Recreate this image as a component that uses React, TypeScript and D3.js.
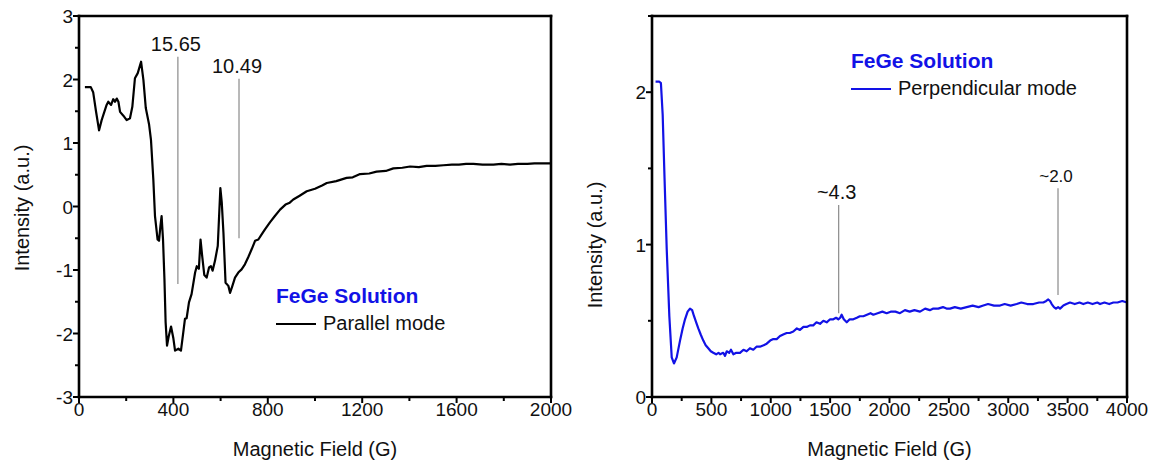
import { useEffect, useRef } from 'react'
import * as d3 from 'd3'

// EPR spectra of FeGe solution, parallel vs perpendicular mode
const PARALLEL_FIELD = [
  25, 50, 60, 72, 85, 96, 117, 124, 136, 145, 153, 160, 167, 174, 188, 202, 216, 226, 237, 249,
  263, 273, 283, 297, 305, 315, 322, 333, 339, 345, 350, 356, 362, 367, 373, 381, 390, 400, 407, 421,
  432, 442, 449, 456, 466, 477, 492, 499, 508, 515, 522, 531, 541, 551, 559, 566, 576, 588, 599, 605,
  612, 621, 633, 640, 650, 661, 675, 689, 703, 717, 732, 746, 760, 774, 788, 809, 830, 852, 875, 893,
  908, 935, 965, 1000, 1030, 1050, 1090, 1134, 1160, 1191, 1230, 1261, 1300, 1332, 1370, 1403, 1440, 1473, 1510, 1544,
  1580, 1610, 1640, 1671, 1710, 1756, 1790, 1826, 1860, 1900, 1930, 1960, 2000,
]
const PARALLEL_INTENSITY = [
  1.88, 1.88, 1.8, 1.5, 1.2, 1.36, 1.6, 1.65, 1.6, 1.69, 1.65, 1.7, 1.65, 1.49, 1.43, 1.36, 1.39, 1.57, 2.02, 2.1,
  2.28, 1.99, 1.55, 1.29, 1.05, 0.42, -0.15, -0.52, -0.54, -0.31, -0.15, -0.52, -1.14, -1.82, -2.19, -2.03, -1.89, -2.08, -2.27, -2.24,
  -2.27, -1.98, -1.77, -1.76, -1.51, -1.38, -1.04, -0.94, -0.98, -0.52, -0.78, -1.08, -1.12, -0.96, -0.94, -1.01, -0.86, -0.62, 0.29, 0.06,
  -0.41, -1.2, -1.25, -1.36, -1.25, -1.12, -1.04, -0.99, -0.91, -0.8, -0.67, -0.54, -0.52, -0.44, -0.36, -0.25, -0.15, -0.05, 0.03, 0.06,
  0.11, 0.17, 0.24, 0.28, 0.33, 0.37, 0.4, 0.45, 0.46, 0.51, 0.52, 0.55, 0.56, 0.6, 0.61, 0.63, 0.62, 0.64, 0.64, 0.65,
  0.66, 0.66, 0.67, 0.67, 0.66, 0.66, 0.67, 0.66, 0.67, 0.67, 0.68, 0.68, 0.68,
]

const PERP_FIELD = [
  30, 60, 75, 90, 105, 124, 146, 166, 185, 208, 236, 258, 278, 300, 320, 338, 354, 372, 390, 410,
  432, 452, 474, 495, 516, 540, 560, 573, 600, 615, 629, 650, 665, 685, 710, 741, 770, 797, 825, 853,
  880, 909, 940, 966, 995, 1022, 1050, 1078, 1105, 1134, 1160, 1190, 1220, 1246, 1275, 1303, 1330, 1358, 1385, 1415,
  1443, 1471, 1500, 1527, 1550, 1569, 1585, 1597, 1615, 1640, 1665, 1695, 1725, 1750, 1780, 1810, 1840, 1864, 1900, 1940,
  1976, 2010, 2050, 2088, 2130, 2170, 2210, 2257, 2300, 2340, 2369, 2410, 2450, 2480, 2510, 2550, 2600, 2650, 2700, 2750,
  2790, 2830, 2880, 2931, 2970, 3020, 3071, 3110, 3160, 3211, 3260, 3295, 3320, 3337, 3352, 3366, 3385, 3402, 3420, 3436,
  3450, 3464, 3490, 3520, 3560, 3600, 3632, 3670, 3710, 3750, 3773, 3810, 3850, 3885, 3920, 3960, 4000,
]
const PERP_INTENSITY = [
  2.07, 2.07, 2.06, 1.85, 1.45, 0.97, 0.53, 0.26, 0.22, 0.26, 0.37, 0.45, 0.51, 0.56, 0.58, 0.57, 0.53, 0.49, 0.45, 0.41,
  0.37, 0.34, 0.32, 0.3, 0.29, 0.28, 0.29, 0.28, 0.29, 0.27, 0.3, 0.29, 0.31, 0.28, 0.29, 0.29, 0.31, 0.3, 0.32, 0.31,
  0.33, 0.33, 0.34, 0.35, 0.37, 0.38, 0.38, 0.4, 0.41, 0.42, 0.42, 0.43, 0.45, 0.44, 0.46, 0.46, 0.47, 0.47, 0.49, 0.48,
  0.5, 0.49, 0.51, 0.51, 0.52, 0.51, 0.52, 0.54, 0.51, 0.49, 0.51, 0.51, 0.52, 0.53, 0.53, 0.54, 0.55, 0.54, 0.55, 0.56,
  0.55, 0.56, 0.56, 0.55, 0.57, 0.56, 0.57, 0.56, 0.58, 0.57, 0.58, 0.58, 0.59, 0.58, 0.58, 0.59, 0.58, 0.59, 0.6, 0.59,
  0.6, 0.61, 0.6, 0.6, 0.61, 0.6, 0.61, 0.62, 0.61, 0.61, 0.62, 0.62, 0.63, 0.64, 0.63, 0.61, 0.59, 0.58, 0.59, 0.58,
  0.59, 0.6, 0.61, 0.62, 0.61, 0.62, 0.61, 0.62, 0.61, 0.62, 0.61, 0.62, 0.61, 0.62, 0.62, 0.63, 0.62,
]

const PARALLEL_X_TICKS = [0, 400, 800, 1200, 1600, 2000]
const PARALLEL_Y_TICKS = [-3, -2, -1, 0, 1, 2, 3]
const PERP_X_TICKS = [0, 500, 1000, 1500, 2000, 2500, 3000, 3500, 4000]
const PERP_Y_TICKS = [0, 1, 2]

// g-value markers: label, field, line top, line bottom
const PARALLEL_MARKERS = [
  { label: '15.65', field: 419, top: 2.36, bottom: -1.22 },
  { label: '10.49', field: 678, top: 2.01, bottom: -0.5 },
]
const PERP_MARKERS = [
  { label: '~4.3', field: 1572, top: 1.26, bottom: 0.55 },
  { label: '~2.0', field: 3419, top: 1.37, bottom: 0.67 },
]

const FONT = 'Liberation Sans, Arial, Helvetica, sans-serif'
const BLUE = '#1212E6'

function drawPanel(svg, cfg) {
  const { x0, x1, y0, y1, xDomain, yDomain, xTicks, xMinor, yTicks, yMinor,
    field, intensity, color, markers, markerSizes, legend, yTitleY } = cfg

  const x = d3.scaleLinear().domain(xDomain).range([x0, x1])
  const y = d3.scaleLinear().domain(yDomain).range([y1, y0])
  const g = svg.append('g')

  // minor + major ticks (outward)
  d3.range(xDomain[0], xDomain[1] + 1e-9, xMinor).forEach((v) => {
    const major = xTicks.includes(v)
    g.append('line').attr('x1', x(v)).attr('x2', x(v)).attr('y1', y1).attr('y2', y1 + (major ? 6 : 4))
      .attr('stroke', '#000').attr('stroke-width', 2)
  })
  d3.range(yDomain[0], yDomain[1] + 1e-9, yMinor).forEach((v) => {
    const major = yTicks.includes(v)
    g.append('line').attr('x1', x0 - (major ? 6 : 4)).attr('x2', x0).attr('y1', y(v)).attr('y2', y(v))
      .attr('stroke', '#000').attr('stroke-width', 2)
  })

  xTicks.forEach((v) => {
    g.append('text').attr('x', x(v)).attr('y', y1 + 19).attr('text-anchor', 'middle')
      .style('font-size', '19px').style('font-family', FONT).attr('fill', '#111').text(v)
  })
  yTicks.forEach((v) => {
    g.append('text').attr('x', x0 - 6).attr('y', y(v) + 7).attr('text-anchor', 'end')
      .style('font-size', '19px').style('font-family', FONT).attr('fill', '#111').text(v)
  })

  // axis titles
  g.append('text').attr('x', (x0 + x1) / 2).attr('y', 456).attr('text-anchor', 'middle')
    .style('font-size', '20px').style('font-family', FONT).attr('fill', '#111').text('Magnetic Field (G)')
  g.append('text').attr('transform', `translate(${x0 - 50},${yTitleY}) rotate(-90)`).attr('text-anchor', 'middle')
    .style('font-size', '20px').style('font-family', FONT).attr('fill', '#111').text('Intensity (a.u.)')

  // marker lines
  markers.forEach((m, i) => {
    g.append('line').attr('x1', x(m.field)).attr('x2', x(m.field)).attr('y1', y(m.top)).attr('y2', y(m.bottom))
      .attr('stroke', '#8a8a8a').attr('stroke-width', 1.2)
    g.append('text').attr('x', x(m.field) - 2).attr('y', y(m.top) - 6).attr('text-anchor', 'middle')
      .style('font-size', markerSizes[i] + 'px').style('font-family', FONT).attr('fill', '#111').text(m.label)
  })

  // spectrum
  const line = d3.line().x((d) => x(d[0])).y((d) => y(d[1]))
  g.append('path').datum(d3.zip(field, intensity)).attr('d', line)
    .attr('fill', 'none').attr('stroke', color).attr('stroke-width', 2.2).attr('stroke-linejoin', 'round')

  // legend
  g.append('text').attr('x', legend.x).attr('y', legend.y).style('font-size', '21px').style('font-weight', 'bold')
    .style('font-family', FONT).attr('fill', BLUE).text('FeGe Solution')
  g.append('line').attr('x1', legend.x).attr('x2', legend.x + 40).attr('y1', legend.y + 21).attr('y2', legend.y + 21)
    .attr('stroke', color).attr('stroke-width', 2)
  g.append('text').attr('x', legend.x + 47).attr('y', legend.y + 27).style('font-size', '20px')
    .style('font-family', FONT).attr('fill', '#111').text(legend.text)

  // frame
  const frame = [[x0, y0, x1, y0], [x1, y0, x1, y1], [x1, y1, x0, y1], [x0, y1, x0, y0]]
  frame.forEach(([a, b, c, d]) => {
    g.append('line').attr('x1', a).attr('y1', b).attr('x2', c).attr('y2', d)
      .attr('stroke', '#000').attr('stroke-width', 2.6).attr('stroke-linecap', 'square')
  })
}

export default function App() {
  const svgRef = useRef(null)

  useEffect(() => {
    const svg = d3.select(svgRef.current)
    svg.selectAll('*').remove()

    drawPanel(svg, {
      x0: 79, x1: 551, y0: 16, y1: 397,
      xDomain: [0, 2000], yDomain: [-3, 3],
      xTicks: PARALLEL_X_TICKS, xMinor: 200, yTicks: PARALLEL_Y_TICKS, yMinor: 0.5,
      field: PARALLEL_FIELD, intensity: PARALLEL_INTENSITY, color: '#000',
      markers: PARALLEL_MARKERS, markerSizes: [20, 20],
      legend: { x: 276, y: 303, text: 'Parallel mode' }, yTitleY: 208,
    })
    drawPanel(svg, {
      x0: 652, x1: 1127, y0: 16, y1: 397,
      xDomain: [0, 4000], yDomain: [0, 2.5],
      xTicks: PERP_X_TICKS, xMinor: 250, yTicks: PERP_Y_TICKS, yMinor: 0.5,
      field: PERP_FIELD, intensity: PERP_INTENSITY, color: BLUE,
      markers: PERP_MARKERS, markerSizes: [20, 17],
      legend: { x: 851, y: 68, text: 'Perpendicular mode' }, yTitleY: 245,
    })
  }, [])

  return (
    <div style={{ position: 'absolute', left: 0, top: 0, width: 1153, height: 462, background: '#fff' }}>
      <svg ref={svgRef} width={1153} height={462} style={{ display: 'block' }} />
    </div>
  )
}
